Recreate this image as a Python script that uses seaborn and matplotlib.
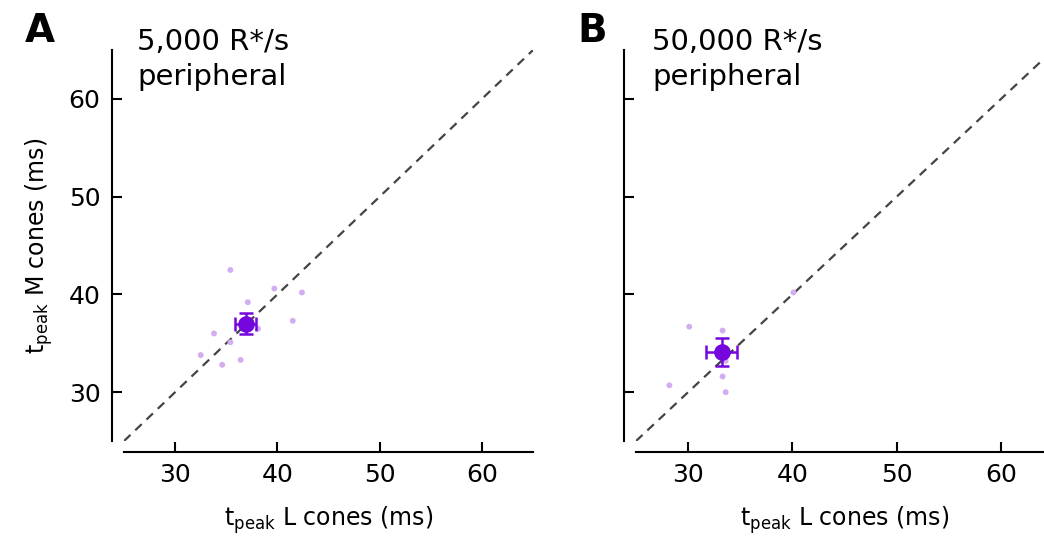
import matplotlib
matplotlib.use("Agg")
import matplotlib.pyplot as plt
import seaborn as sns

# individual cells, 5,000 R*/s
a_L = [35.4, 39.7, 42.4, 37.1, 41.5, 38.1, 33.8, 35.4, 32.5, 36.4, 34.6]
a_M = [42.5, 40.6, 40.2, 39.2, 37.3, 36.5, 36.0, 35.1, 33.8, 33.3, 32.8]
a_mean = (36.9, 37.0)
a_err = (1.0, 1.05)

# individual cells, 50,000 R*/s
b_L = [40.1, 30.1, 33.3, 33.6, 33.3, 28.2, 33.6]
b_M = [40.2, 36.7, 36.3, 33.2, 31.6, 30.7, 30.0]
b_mean = (33.2, 34.1)
b_err = (1.45, 1.45)

ticks = [30, 40, 50, 60]
titles = ["5,000 R*/s\nperipheral", "50,000 R*/s\nperipheral"]
panel_letters = ["A", "B"]

sns.set_style("ticks")
plt.rcParams['font.family'] = ['DejaVu Sans']
plt.rcParams['text.color'] = 'black'
plt.rcParams['axes.labelcolor'] = 'black'
plt.rcParams['xtick.color'] = 'black'
plt.rcParams['ytick.color'] = 'black'
plt.rcParams['axes.edgecolor'] = 'black'
plt.rcParams['xtick.direction'] = 'in'
plt.rcParams['ytick.direction'] = 'in'

fig = plt.figure(figsize=(10.44, 5.42), dpi=100)
axA = fig.add_axes([0.1188, 0.1863, 0.3918, 0.7214])
axB = fig.add_axes([0.6092, 0.1863, 0.3996, 0.7214])

dot_color = "#d2aef0"
mean_color = "#7506dd"

for ax, L, M, mean, err in [(axA, a_L, a_M, a_mean, a_err), (axB, b_L, b_M, b_mean, b_err)]:
    ax.plot([25, 66], [25, 66], ls=(0, (4, 3)), color="#444444", lw=1.6, zorder=1)
    sns.scatterplot(x=L, y=M, ax=ax, color=dot_color, s=18, edgecolor="none", zorder=2)
    ax.errorbar(mean[0], mean[1], xerr=err[0], yerr=err[1], fmt="o", color=mean_color,
                ms=11, elinewidth=1.8, capsize=5, capthick=1.8, zorder=3)
    ax.set_xlim(25, 65)
    ax.set_ylim(25, 65)
    ax.set_xticks(ticks)
    ax.set_yticks(ticks)
    sns.despine(ax=ax)
    ax.spines['left'].set_position(('outward', 9))
    ax.spines['bottom'].set_position(('outward', 8))
    ax.spines['left'].set_linewidth(1.5)
    ax.spines['bottom'].set_linewidth(1.5)
    ax.tick_params(direction='in', length=7, width=1.5, labelsize=18, pad=8)
    ax.set_xlabel(r"t$_{\mathregular{peak}}$ L cones (ms)", fontsize=17, labelpad=12)

axA.set_ylabel(r"t$_{\mathregular{peak}}$ M cones (ms)", fontsize=17, labelpad=10)
axB.set_yticklabels([])

fig.text(137 / 1044, 1 - 28 / 542, titles[0], fontsize=21, va='top', ha='left', linespacing=1.3)
fig.text(652 / 1044, 1 - 28 / 542, titles[1], fontsize=21, va='top', ha='left', linespacing=1.3)
fig.text(25 / 1044, 1 - 12 / 542, panel_letters[0], fontsize=28, fontweight='bold', va='top')
fig.text(577 / 1044, 1 - 12 / 542, panel_letters[1], fontsize=28, fontweight='bold', va='top')

fig.savefig("out.png", dpi=100)
